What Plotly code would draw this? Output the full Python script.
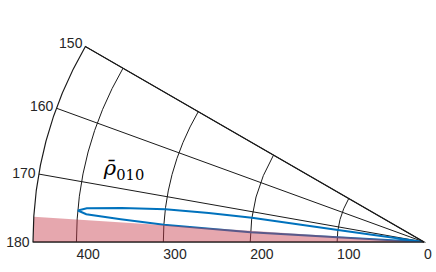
import plotly.graph_objects as go

# Data
loop_r = [0, 100, 200, 250, 300, 350, 390, 400, 390, 350, 300, 200, 100, 0]
loop_theta = [172.0, 172.0, 172.0, 172.3, 172.8, 173.6, 174.3, 174.8, 175.3, 175.7, 176.2, 176.8, 176.9, 177.0]
band_r = [0, 450, 450, 0]
band_theta = [176.3, 176.3, 180, 180]
radial_ticks = [0, 100, 200, 300, 400]
angular_ticks = [150, 160, 170, 180]
label_text = "<i>ρ̄</i><sub>010</sub>"
label_r = [355]
label_theta = [166.5]

fig = go.Figure()
fig.add_trace(go.Scatterpolar(r=loop_r, theta=loop_theta, mode="lines",
                              line=dict(color="#0072bd", width=2), hoverinfo="skip"))
fig.add_trace(go.Scatterpolar(r=band_r, theta=band_theta, mode="lines", fill="toself",
                              fillcolor="rgba(200,60,75,0.45)", line=dict(width=0),
                              hoverinfo="skip"))
fig.add_trace(go.Scatterpolar(r=label_r, theta=label_theta, mode="text", text=[label_text],
                              textfont=dict(family="DejaVu Serif", size=21, color="#000"),
                              hoverinfo="skip"))

W, H = 436, 272
x0, x1 = 33, 424
R = x1 - x0
ybot = 242
ytop = ybot - R / 2
fig.update_layout(
    width=W, height=H, margin=dict(l=0, r=0, t=0, b=0),
    paper_bgcolor="white", showlegend=False,
    font=dict(family="Liberation Sans", size=14, color="#262626"),
    polar=dict(
        domain=dict(x=[x0 / W, x1 / W], y=[(H - ybot) / H, (H - ytop) / H]),
        sector=[150, 180],
        bgcolor="white",
        radialaxis=dict(range=[0, 450], tickvals=radial_ticks, angle=180, tickangle=180,
                        showline=False, ticks="", gridcolor="#1a1a1a", gridwidth=1.2,
                        side="counterclockwise", ticksuffix="\u2002\u2002"),
        angularaxis=dict(tickvals=angular_ticks, direction="counterclockwise", rotation=0,
                         showline=True, linecolor="#1a1a1a", linewidth=1.2, ticks="",
                         gridcolor="#1a1a1a", gridwidth=1.2),
    ),
)
fig.write_html("out.html", config={"displayModeBar": False},
               post_script="document.body.style.margin='0';document.body.style.overflow='hidden';")
